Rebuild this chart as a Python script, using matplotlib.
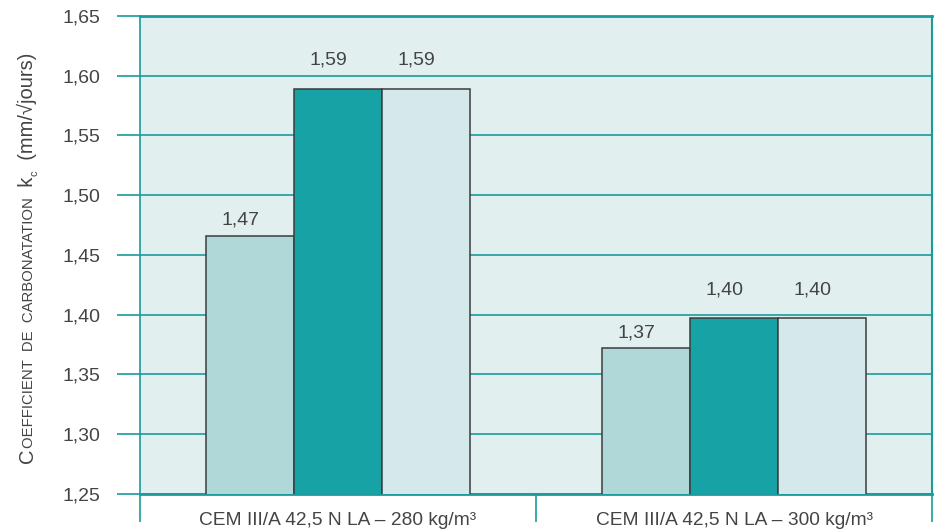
import numpy as np
import matplotlib.pyplot as plt

# data
groupes = ['CEM III/A 42,5 N LA – 280 kg/m³', 'CEM III/A 42,5 N LA – 300 kg/m³']
serie_1 = [1.466, 1.372]
serie_2 = [1.589, 1.397]
serie_3 = [1.589, 1.397]
graduations = [1.25, 1.30, 1.35, 1.40, 1.45, 1.50, 1.55, 1.60, 1.65]

teal = '#1a9b9c'
fond = '#e2efef'
couleurs = ['#b0d8d9', '#17a3a5', '#d5e8eb']
texte = '#444444'
police = ['Liberation Sans', 'DejaVu Sans']

plt.rcParams['font.family'] = police

W, H = 939, 531
fig = plt.figure(figsize=(W / 100, H / 100), dpi=100)
ax = fig.add_axes([140 / W, 37 / H, 792 / W, 478 / H])
ax.set_facecolor(fond)

x = np.array([0.5, 1.5])
larg = 0.222
decal = [5, 14.5, 14.5]  # hauteur des étiquettes au-dessus des barres (pt)
for i, (vals, c) in enumerate(zip([serie_1, serie_2, serie_3], couleurs)):
    pos = x + (i - 1) * larg
    ax.bar(pos, vals, width=larg, bottom=0, color=c, edgecolor='#3c3c3c',
           linewidth=1.1, zorder=3)
    for px, v in zip(pos, vals):
        ax.annotate(f'{v:.2f}'.replace('.', ','), (px, v),
                    xytext=(-7, decal[i]), textcoords='offset points',
                    ha='center', va='bottom', fontsize=14, color=texte)

ax.set_xlim(0, 2)
ax.set_ylim(1.25, 1.65)

# axe y : graduations et lignes de grille qui débordent à gauche
ax.set_yticks(graduations)
ax.set_yticklabels([f'{g:.2f}'.replace('.', ',') for g in graduations])
ax.tick_params(axis='y', length=16.5, width=1.2, color=teal, pad=12,
               labelsize=14, labelcolor=texte)
ax.yaxis.grid(True, color=teal, linewidth=1.2)
ax.set_axisbelow(True)

# axe x : séparateurs entre groupes
ax.set_xticks(x)
ax.set_xticklabels(groupes)
ax.set_xticks([0, 1, 2], minor=True)
ax.tick_params(axis='x', which='major', length=0, pad=13, labelsize=13.8,
               labelcolor=texte)
ax.tick_params(axis='x', which='minor', length=20, width=1.2, color=teal,
               direction='out')

for s, lw in zip(['left', 'right', 'top', 'bottom'], [1.2, 1.5, 2, 2]):
    ax.spines[s].set_color(teal)
    ax.spines[s].set_linewidth(lw)

# titre de l'axe y en petites capitales, assemblé morceau par morceau
fig.canvas.draw()
rend = fig.canvas.get_renderer()
morceaux = [('C', 14.5, 0), ('OEFFICIENT  DE  CARBONATATION', 10.7, 0),
            ('  k', 14.5, 0), ('c', 8, 4), ('  (mm/√jours)', 14.5, 0)]
xb, yb = 33, H - 463
for s, fs, dx in morceaux:
    t = fig.text((xb + dx) / W, yb / H, s, rotation=90, rotation_mode='anchor',
                 ha='left', va='baseline', fontsize=fs, color=texte)
    bb = t.get_window_extent(rend)
    yb = bb.y1

fig.savefig('out.png', dpi=100)
